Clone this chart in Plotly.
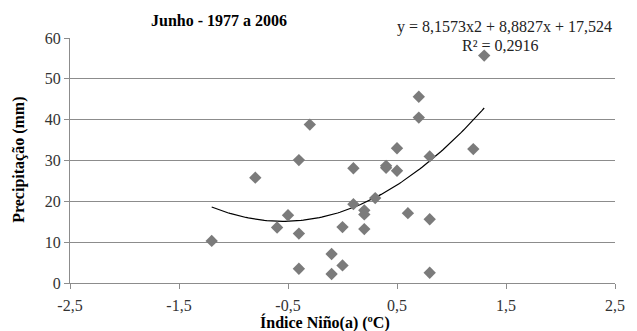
import numpy as np
import plotly.graph_objects as go

# Data: Niño index (ºC) vs precipitation (mm), June 1977-2006
nino = [-1.2, -0.8, -0.6, -0.5, -0.4, -0.4, -0.4, -0.3, -0.1, -0.1,
        0.0, 0.0, 0.1, 0.1, 0.2, 0.2, 0.2, 0.3, 0.4, 0.4,
        0.5, 0.5, 0.6, 0.7, 0.7, 0.8, 0.8, 0.8, 1.2, 1.3]
precip = [10.3, 25.8, 13.6, 16.6, 12.1, 3.5, 30.1, 38.8, 7.1, 2.2,
          4.3, 13.7, 19.3, 28.1, 17.8, 16.8, 13.2, 20.8, 28.7, 28.2,
          27.5, 33.0, 17.1, 45.6, 40.5, 15.6, 2.5, 31.0, 32.8, 55.7]

# Polynomial trendline coefficients (a, b, c) as printed on chart
poly_coef = [8.1573, 8.8827, 17.524]

x_tickvals = [-2.5, -1.5, -0.5, 0.5, 1.5, 2.5]
x_ticktext = ["-2,5", "-1,5", "-0,5", "0,5", "1,5", "2,5"]
y_tickvals = [0, 10, 20, 30, 40, 50, 60]

xs = np.linspace(min(nino), max(nino), 120)
ys = np.polyval(poly_coef, xs)

SERIF = "'Liberation Serif', 'Times New Roman', serif"
fig = go.Figure()
fig.add_trace(go.Scatter(x=xs, y=ys, mode="lines",
                         line=dict(color="black", width=1.2),
                         hoverinfo="skip", showlegend=False))
fig.add_trace(go.Scatter(x=nino, y=precip, mode="markers",
                         marker=dict(symbol="diamond", size=9.5, color="#7b7b7b",
                                     line=dict(width=0)),
                         showlegend=False))

pw = 637 - 70 - 13
ph = 331 - 38 - 48
def px(xp):
    return (xp - 70) / pw
def py(yp):
    return (331 - 48 - yp) / ph

fig.update_layout(
    width=637, height=331,
    margin=dict(l=70, r=13, t=38, b=48),
    paper_bgcolor="white", plot_bgcolor="white",
    font=dict(family=SERIF, size=16, color="#333333"),
    xaxis=dict(range=[-2.5, 2.5], tickvals=x_tickvals, ticktext=x_ticktext,
               showgrid=False, zeroline=False, showline=True,
               linecolor="#8c8c8c", linewidth=1.2,
               ticks="outside", ticklen=5, tickcolor="#8c8c8c",
               ticklabelstandoff=3,
               tickfont=dict(family=SERIF, size=16, color="#333333")),
    yaxis=dict(range=[0, 60], tickvals=y_tickvals,
               showgrid=True, gridcolor="#8c8c8c", gridwidth=1,
               zeroline=False, showline=True,
               linecolor="#8c8c8c", linewidth=1.2,
               ticks="outside", ticklen=5, tickcolor="#8c8c8c",
               tickfont=dict(family=SERIF, size=16, color="#333333")),
    annotations=[
        dict(text="<b>Junho - 1977 a 2006</b>", x=px(221), y=py(20),
             xanchor="center", yanchor="middle", xref="paper", yref="paper",
             showarrow=False, font=dict(family=SERIF, size=16, color="black")),
        dict(text="<b>Precipitação (mm)</b>", x=px(18), y=py(160),
             xanchor="center", yanchor="middle", xref="paper", yref="paper",
             textangle=-90, showarrow=False,
             font=dict(family=SERIF, size=16, color="black")),
        dict(text="<b>Índice Niño(a) (ºC)</b>", x=px(329), y=py(322),
             xanchor="center", yanchor="middle", xref="paper", yref="paper",
             showarrow=False, font=dict(family=SERIF, size=16, color="black")),
        dict(text="y = 8,1573x2 + 8,8827x + 17,524", x=px(623), y=py(27),
             xanchor="right", yanchor="middle",
             xref="paper", yref="paper", showarrow=False,
             font=dict(family=SERIF, size=16, color="#222222")),
        dict(text="R² = 0,2916", x=px(508), y=py(46),
             xanchor="center", yanchor="middle",
             xref="paper", yref="paper", showarrow=False,
             font=dict(family=SERIF, size=16, color="#222222")),
    ],
)

fig.write_html("out.html")
